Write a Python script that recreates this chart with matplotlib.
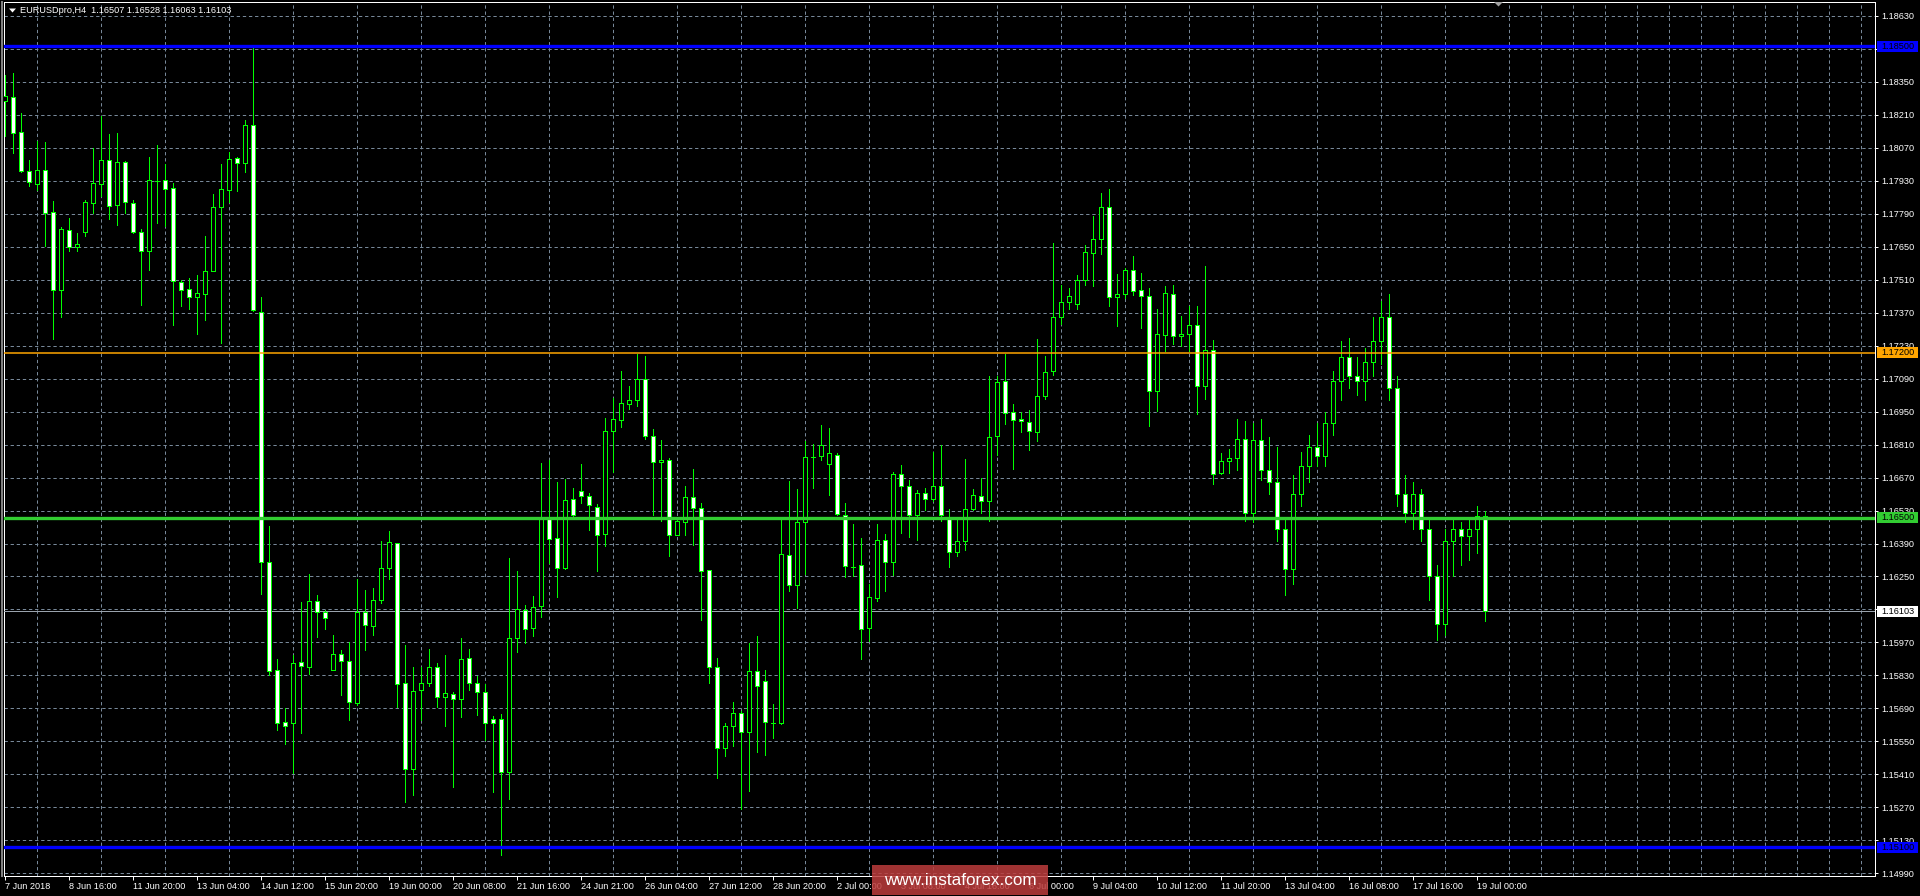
import matplotlib
matplotlib.use('Agg')
import matplotlib.pyplot as plt
from matplotlib.patches import Rectangle, Polygon
from matplotlib.transforms import blended_transform_factory
import numpy as np

plt.rcParams['font.family'] = ['Liberation Sans', 'DejaVu Sans']
plt.rcParams['lines.scale_dashes'] = False

# ---------------- data ----------------
chart_title = "EURUSDpro,H4  1.16507 1.16528 1.16063 1.16103"

opens = [
    1.18267, 1.18283, 1.18135, 1.17972, 1.17917, 1.17977, 1.17796, 1.17464, 1.17722, 1.17650,
    1.17713, 1.17833, 1.17917, 1.18016, 1.17828, 1.18009, 1.17837, 1.17713, 1.17633, 1.17929,
    1.17931, 1.17900, 1.17501, 1.17469, 1.17436, 1.17450, 1.17545, 1.17820, 1.17892, 1.18024,
    1.18005, 1.18168, 1.17374, 1.16310, 1.15852, 1.15632, 1.15630, 1.15887, 1.15868, 1.16144,
    1.16101, 1.15852, 1.15922, 1.15893, 1.15714, 1.16099, 1.16041, 1.16152, 1.16288, 1.16391,
    1.15796, 1.15434, 1.15769, 1.15796, 1.15868, 1.15737, 1.15753, 1.15732, 1.15905, 1.15796,
    1.15761, 1.15644, 1.15644, 1.15422, 1.15987, 1.16107, 1.16033, 1.16123, 1.16502, 1.16415,
    1.16288, 1.16578, 1.16611, 1.16590, 1.16547, 1.16430, 1.16866, 1.16915, 1.16983, 1.16997,
    1.17088, 1.16845, 1.16734, 1.16744, 1.16428, 1.16483, 1.16586, 1.16541, 1.16277, 1.15866,
    1.15521, 1.15617, 1.15669, 1.15588, 1.15850, 1.15806, 1.15627, 1.15627, 1.16343, 1.16216,
    1.16483, 1.16759, 1.16763, 1.16726, 1.16767, 1.16512, 1.16292, 1.16300, 1.16033, 1.16160,
    1.16403, 1.16310, 1.16687, 1.16635, 1.16512, 1.16603, 1.16578, 1.16635, 1.16502, 1.16352,
    1.16399, 1.16535, 1.16590, 1.16572, 1.16847, 1.17078, 1.16946, 1.16917, 1.16907, 1.16862,
    1.17014, 1.17123, 1.17353, 1.17413, 1.17405, 1.17508, 1.17621, 1.17684, 1.17816, 1.17434,
    1.17450, 1.17549, 1.17464, 1.17442, 1.17039, 1.17273, 1.17450, 1.17269, 1.17281, 1.17318,
    1.17057, 1.17211, 1.16691, 1.16742, 1.16751, 1.16835, 1.16520, 1.16830, 1.16700, 1.16650,
    1.16450, 1.16280, 1.16600, 1.16720, 1.16800, 1.16760, 1.16900, 1.17080, 1.17180, 1.17100,
    1.17080, 1.17160, 1.17250, 1.17350, 1.17050, 1.16600, 1.16520, 1.16600, 1.16450, 1.16250,
    1.16050, 1.16400, 1.16450, 1.16420, 1.16450, 1.16507,
]
highs = [
    1.18380, 1.18388, 1.18215, 1.18018, 1.18100, 1.18092, 1.17843, 1.17734, 1.17771, 1.17709,
    1.17849, 1.18069, 1.18203, 1.18127, 1.18131, 1.18014, 1.17849, 1.17726, 1.18030, 1.18081,
    1.18001, 1.17919, 1.17510, 1.17516, 1.17530, 1.17695, 1.17874, 1.17999, 1.18051, 1.18030,
    1.18186, 1.18491, 1.17438, 1.16465, 1.15899, 1.15691, 1.15915, 1.16142, 1.16261, 1.16171,
    1.16109, 1.16002, 1.15936, 1.15973, 1.16238, 1.16191, 1.16203, 1.16399, 1.16444, 1.16391,
    1.15961, 1.15864, 1.15864, 1.15944, 1.15883, 1.15915, 1.15759, 1.15987, 1.15944, 1.15827,
    1.15792, 1.15658, 1.15665, 1.16327, 1.16275, 1.16131, 1.16168, 1.16730, 1.16746, 1.16652,
    1.16664, 1.16625, 1.16728, 1.16605, 1.16557, 1.16923, 1.17008, 1.17123, 1.17059, 1.17195,
    1.17185, 1.16876, 1.16831, 1.16753, 1.16491, 1.16635, 1.16707, 1.16561, 1.16277, 1.15903,
    1.15627, 1.15718, 1.15679, 1.15967, 1.15998, 1.15852, 1.15708, 1.16489, 1.16656, 1.16621,
    1.16825, 1.16814, 1.16893, 1.16882, 1.16775, 1.16563, 1.16471, 1.16413, 1.16220, 1.16473,
    1.16430, 1.16693, 1.16724, 1.16660, 1.16615, 1.16625, 1.16777, 1.16808, 1.16537, 1.16489,
    1.16749, 1.16623, 1.16668, 1.17100, 1.17100, 1.17195, 1.16981, 1.16950, 1.16958, 1.17257,
    1.17185, 1.17664, 1.17489, 1.17473, 1.17528, 1.17658, 1.17779, 1.17876, 1.17896, 1.17532,
    1.17561, 1.17612, 1.17536, 1.17475, 1.17386, 1.17483, 1.17485, 1.17355, 1.17397, 1.17397,
    1.17569, 1.17255, 1.16775, 1.16792, 1.16917, 1.16911, 1.16900, 1.16920, 1.16840, 1.16800,
    1.16500, 1.16680, 1.16780, 1.16850, 1.16900, 1.16950, 1.17120, 1.17250, 1.17260, 1.17180,
    1.17220, 1.17350, 1.17420, 1.17450, 1.17100, 1.16680, 1.16650, 1.16620, 1.16500, 1.16300,
    1.16450, 1.16500, 1.16480, 1.16500, 1.16550, 1.16528,
]
lows = [
    1.18121, 1.18049, 1.17968, 1.17907, 1.17890, 1.17652, 1.17259, 1.17353, 1.17633, 1.17631,
    1.17697, 1.17791, 1.17863, 1.17769, 1.17740, 1.17794, 1.17709, 1.17401, 1.17549, 1.17750,
    1.17738, 1.17318, 1.17397, 1.17386, 1.17279, 1.17337, 1.17545, 1.17242, 1.17839, 1.17884,
    1.17968, 1.17376, 1.16177, 1.15833, 1.15597, 1.15541, 1.15418, 1.15584, 1.15837, 1.15992,
    1.16029, 1.15852, 1.15749, 1.15642, 1.15706, 1.15940, 1.16000, 1.16136, 1.16238, 1.15695,
    1.15294, 1.15321, 1.15642, 1.15786, 1.15697, 1.15617, 1.15357, 1.15652, 1.15767, 1.15662,
    1.15555, 1.15336, 1.15069, 1.15307, 1.15930, 1.15967, 1.15998, 1.16076, 1.16306, 1.16162,
    1.16282, 1.16506, 1.16563, 1.16446, 1.16275, 1.16378, 1.16693, 1.16886, 1.16962, 1.16973,
    1.16835, 1.16512, 1.16485, 1.16337, 1.16424, 1.16426, 1.16384, 1.16064, 1.15800, 1.15397,
    1.15488, 1.15531, 1.15262, 1.15339, 1.15504, 1.15494, 1.15566, 1.15623, 1.16187, 1.16117,
    1.16261, 1.16625, 1.16744, 1.16594, 1.16512, 1.16249, 1.16251, 1.15901, 1.15977, 1.16148,
    1.16189, 1.16255, 1.16434, 1.16417, 1.16407, 1.16533, 1.16570, 1.16485, 1.16292, 1.16335,
    1.16362, 1.16533, 1.16520, 1.16487, 1.16767, 1.16899, 1.16707, 1.16862, 1.16788, 1.16825,
    1.17002, 1.17106, 1.17322, 1.17384, 1.17384, 1.17489, 1.17483, 1.17619, 1.17397, 1.17314,
    1.17431, 1.17446, 1.17306, 1.16890, 1.16952, 1.17207, 1.17236, 1.17230, 1.17207, 1.16938,
    1.17002, 1.16642, 1.16683, 1.16689, 1.16701, 1.16487, 1.16480, 1.16660, 1.16600, 1.16400,
    1.16170, 1.16220, 1.16550, 1.16650, 1.16720, 1.16720, 1.16850, 1.17000, 1.17050, 1.17020,
    1.17000, 1.17100, 1.17150, 1.17000, 1.16550, 1.16480, 1.16450, 1.16400, 1.16150, 1.15980,
    1.16000, 1.16250, 1.16300, 1.16320, 1.16350, 1.16063,
]
closes = [
    1.18287, 1.18133, 1.17972, 1.17923, 1.17977, 1.17794, 1.17464, 1.17724, 1.17650, 1.17660,
    1.17839, 1.17919, 1.18018, 1.17824, 1.18009, 1.17841, 1.17713, 1.17633, 1.17931, 1.17929,
    1.17896, 1.17503, 1.17464, 1.17436, 1.17452, 1.17545, 1.17816, 1.17894, 1.18022, 1.18005,
    1.18168, 1.17380, 1.16310, 1.15848, 1.15627, 1.15617, 1.15885, 1.15870, 1.16148, 1.16101,
    1.16072, 1.15920, 1.15893, 1.15716, 1.16099, 1.16045, 1.16152, 1.16288, 1.16395, 1.15792,
    1.15434, 1.15765, 1.15796, 1.15868, 1.15737, 1.15757, 1.15732, 1.15901, 1.15796, 1.15761,
    1.15630, 1.15627, 1.15422, 1.15987, 1.16111, 1.16029, 1.16119, 1.16502, 1.16411, 1.16288,
    1.16574, 1.16512, 1.16590, 1.16553, 1.16424, 1.16866, 1.16917, 1.16985, 1.16997, 1.17088,
    1.16847, 1.16734, 1.16744, 1.16428, 1.16485, 1.16586, 1.16539, 1.16275, 1.15864, 1.15521,
    1.15617, 1.15669, 1.15588, 1.15848, 1.15786, 1.15632, 1.15627, 1.16347, 1.16216, 1.16483,
    1.16759, 1.16759, 1.16808, 1.16775, 1.16516, 1.16296, 1.16292, 1.16029, 1.16162, 1.16403,
    1.16310, 1.16687, 1.16633, 1.16512, 1.16605, 1.16578, 1.16635, 1.16512, 1.16352, 1.16399,
    1.16535, 1.16594, 1.16569, 1.16843, 1.17074, 1.16944, 1.16915, 1.16909, 1.16866, 1.17014,
    1.17119, 1.17353, 1.17413, 1.17440, 1.17508, 1.17625, 1.17684, 1.17820, 1.17436, 1.17450,
    1.17549, 1.17460, 1.17442, 1.17039, 1.17281, 1.17454, 1.17269, 1.17281, 1.17318, 1.17057,
    1.17213, 1.16683, 1.16740, 1.16753, 1.16835, 1.16518, 1.16830, 1.16700, 1.16650, 1.16450,
    1.16280, 1.16600, 1.16720, 1.16800, 1.16760, 1.16900, 1.17080, 1.17180, 1.17100, 1.17080,
    1.17160, 1.17250, 1.17350, 1.17050, 1.16600, 1.16520, 1.16600, 1.16450, 1.16250, 1.16050,
    1.16400, 1.16450, 1.16420, 1.16450, 1.16507, 1.16103,
]

time_labels = [
    "7 Jun 2018", "8 Jun 16:00", "11 Jun 20:00", "13 Jun 04:00", "14 Jun 12:00",
    "15 Jun 20:00", "19 Jun 00:00", "20 Jun 08:00", "21 Jun 16:00", "24 Jun 21:00",
    "26 Jun 04:00", "27 Jun 12:00", "28 Jun 20:00", "2 Jul 00:00", "3 Jul 08:00",
    "4 Jul 16:00", "6 Jul 00:00", "9 Jul 04:00", "10 Jul 12:00", "11 Jul 20:00",
    "13 Jul 04:00", "16 Jul 08:00", "17 Jul 16:00", "19 Jul 00:00",
]
bars_per_time_label = 8

price_labels = [
    "1.14990", "1.15130", "1.15270", "1.15410", "1.15550", "1.15690", "1.15830",
    "1.15970", "1.16110", "1.16250", "1.16390", "1.16530", "1.16670", "1.16810",
    "1.16950", "1.17090", "1.17230", "1.17370", "1.17510", "1.17650", "1.17790",
    "1.17930", "1.18070", "1.18210", "1.18350", "1.18490", "1.18630",
]

level_prices = [1.18500, 1.17200, 1.16500, 1.15100]
level_labels = ["1.18500", "1.17200", "1.16500", "1.15100"]
level_colors = ["#0000FF", "#FFA500", "#32CD32", "#0000FF"]
level_widths = [2.4, 1.1, 2.4, 2.4]

bid_price = 1.16103
bid_label = "1.16103"
watermark = "www.instaforex.com"

# ---------------- figure ----------------
W, H = 1920, 896
fig = plt.figure(figsize=(W / 100, H / 100), dpi=100, facecolor='black')
ax_l, ax_r, ax_t, ax_b = 4, 1875, 2, 876
ax = fig.add_axes([ax_l / W, (H - ax_b) / H, (ax_r - ax_l) / W, (ax_b - ax_t) / H])
ax.set_facecolor('black')

n = len(opens)
idx = np.arange(n)
o = np.array(opens); h = np.array(highs); l = np.array(lows); c = np.array(closes)

ax.set_xlim(-0.166, 233.71)
ax.set_ylim(1.14979, 1.18688)

grid_col = '#778899'
px = 0.72
price_vals = [float(s) for s in price_labels]
ax.set_yticks(price_vals)
ax.set_yticklabels(price_labels)
ax.yaxis.tick_right()
ax.tick_params(axis='y', which='major', colors='white', labelcolor='white',
               length=2.3, width=px, pad=2.0, labelsize=6.6)

label_pos = [k * bars_per_time_label for k in range(len(time_labels))]
ax.set_xticks(label_pos)
ax.set_xticklabels(time_labels, ha='left')
ax.tick_params(axis='x', which='major', colors='white', labelcolor='white',
               length=2.6, width=px, pad=1.6, labelsize=6.6)
ax.set_xticks(np.arange(4, 234, 4), minor=True)
ax.tick_params(which='minor', length=0)

ax.grid(True, which='major', axis='y', color=grid_col, lw=px, ls=(0, (2.4, 2.0)))
ax.grid(True, which='minor', axis='x', color=grid_col, lw=px, ls=(0, (2.4, 2.0)))
ax.set_axisbelow(True)

for s in ax.spines.values():
    s.set_color('white')
    s.set_linewidth(px)

# wicks and bodies
lime = '#00FF00'
ax.vlines(idx, l, h, colors=lime, lw=px, antialiased=False, zorder=3)
bull = c >= o
faces = np.where(bull, 'black', 'white')
ax.bar(idx, c - o, bottom=o, width=0.5, color=faces, edgecolor=lime,
       linewidth=px, antialiased=False, zorder=4)

# bid line
ax.axhline(bid_price, color='#9aa3ad', lw=px, zorder=2.6)

# levels
for p, col, lw in zip(level_prices, level_colors, level_widths):
    ax.axhline(p, color=col, lw=lw, zorder=5)

# right-side price boxes
trans = blended_transform_factory(ax.transAxes, ax.transData)
axw = ax_r - ax_l
ppx = (1.18688 - 1.14979) / (ax_b - ax_t)
box_x0 = (1877 - ax_l) / axw
box_w = 41 / axw
box_h = 11 * ppx
txt_x = (1881 - ax_l) / axw
boxes = list(zip(level_prices, level_labels, level_colors)) + [(bid_price, bid_label, 'white')]
for p, lab, col in boxes:
    ax.add_patch(Rectangle((box_x0, p - box_h / 2), box_w, box_h, transform=trans,
                           facecolor=col, edgecolor='none', clip_on=False, zorder=10))
    ax.text(txt_x, p, lab, transform=trans, ha='left', va='center', color='black',
            fontsize=6.6, zorder=11, clip_on=False)

# title
fig.text(20.5 / W, 1 - 10.5 / H, chart_title, color='white', fontsize=6.6,
         ha='left', va='center')
fig.add_artist(Polygon([(9 / W, 1 - 8.5 / H), (16 / W, 1 - 8.5 / H), (12.5 / W, 1 - 12.5 / H)],
                       closed=True, transform=fig.transFigure, facecolor='white',
                       edgecolor='none'))
# chart shift marker
fig.add_artist(Polygon([(1494 / W, 1 - 2 / H), (1503 / W, 1 - 2 / H), (1498.5 / W, 1 - 6.5 / H)],
                       closed=True, transform=fig.transFigure, facecolor='#a0a0a0',
                       edgecolor='none', zorder=20))
# left window edge
fig.add_artist(plt.Line2D([1.5 / W, 1.5 / W], [(H - ax_b) / H, 1 - ax_t / H],
                          transform=fig.transFigure, color='#808080', lw=1.5))

# watermark
fig.add_artist(Rectangle((872 / W, 1 - 895 / H), 176 / W, 30 / H, transform=fig.transFigure,
                         facecolor=(0.74, 0.24, 0.24), edgecolor='none', alpha=0.85, zorder=30))
fig.text(960 / W, 1 - 880.5 / H, watermark, color='white', fontsize=12.3,
         ha='center', va='center', zorder=31)

fig.savefig('out.png', dpi=100, facecolor='black')
